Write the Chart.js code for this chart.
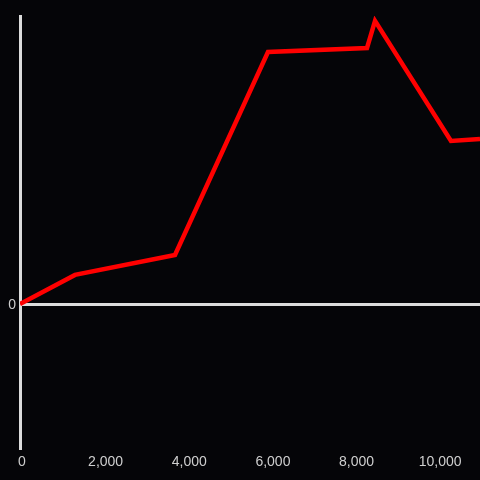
<!DOCTYPE html>
<html>
<head>
<meta charset="utf-8">
<script src="https://cdn.jsdelivr.net/npm/chart.js@4"></script>
<style>
  html, body { margin: 0; padding: 0; background: #050508; }
  #wrap { width: 480px; height: 480px; }
</style>
</head>
<body>
<div id="wrap"><canvas id="chart"></canvas></div>
<script>
const xValues = [0, 1315, 3706, 5930, 8298, 8490, 10306, 11000];
const yValues = [0, 10.1, 17, 87.5, 88.9, 98.3, 56.6, 57.3];
const xTicks = [0, 2000, 4000, 6000, 8000, 10000];
const yTicks = [0];

const axisColor = '#dcdcdc';
const textColor = '#cfcfcf';

new Chart('chart', {
    type: 'line',
    data: {
        datasets: [{
            data: xValues.map((x, i) => ({x: x, y: yValues[i]})),
            borderColor: '#ff0000',
            borderWidth: 4.5,
            pointRadius: 0,
            tension: 0,
            fill: false
        }]
    },
    options: {
        responsive: true,
        maintainAspectRatio: false,
        animation: false,
        layout: { padding: { top: 16, right: 0, left: 0, bottom: 0 } },
        plugins: { legend: { display: false }, tooltip: { enabled: false } },
        scales: {
            x: {
                type: 'linear',
                min: 0,
                max: 11000,
                afterBuildTicks: axis => { axis.ticks = xTicks.map(v => ({value: v})); },
                afterFit: axis => { axis.height = 32; },
                grid: { display: false, drawTicks: false },
                border: { display: false },
                ticks: {
                    color: textColor,
                    padding: 6,
                    labelOffset: 2,
                    maxRotation: 0,
                    font: { family: 'Liberation Sans', size: 14 }
                }
            },
            y: {
                min: -50,
                max: 100,
                afterBuildTicks: axis => { axis.ticks = yTicks.map(v => ({value: v})); },
                afterFit: axis => { axis.width = 20; },
                grid: {
                    drawTicks: false,
                    color: axisColor,
                    lineWidth: 3
                },
                border: { display: true, color: axisColor, width: 3 },
                ticks: {
                    color: textColor,
                    padding: 4,
                    labelOffset: 1,
                    font: { family: 'Liberation Sans', size: 14 }
                }
            }
        }
    }
});
</script>
</body>
</html>
